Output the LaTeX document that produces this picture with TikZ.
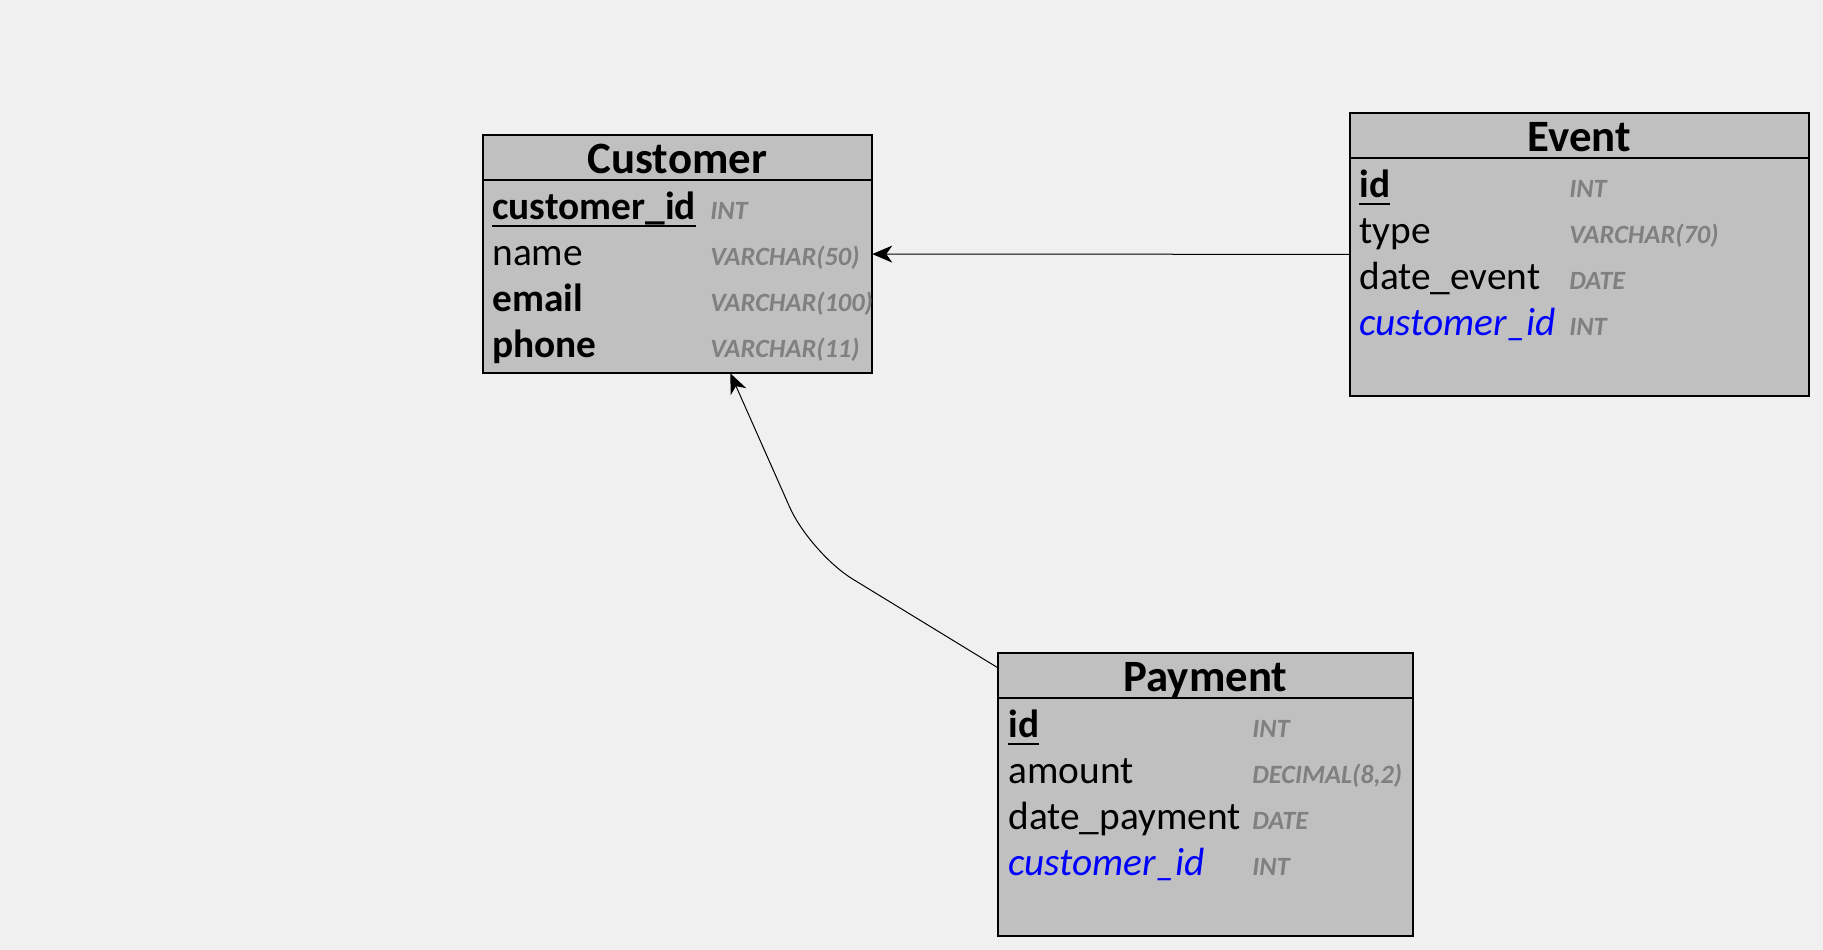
\documentclass[tikz,border=0pt]{standalone}
\usepackage{fontspec}
\setmainfont{Carlito}
\usetikzlibrary{arrows.meta, positioning, fit, calc}

\definecolor{canvas}{HTML}{F0F0F0}
\definecolor{tablefill}{HTML}{C0C0C0}
\definecolor{typegray}{HTML}{808080}
\definecolor{fkblue}{HTML}{0000FF}

% primary key: bold name with a thick underline
\newcommand{\pkname}[1]{\setbox0\hbox{#1}\rlap{\rule[-4.6pt]{\wd0}{1.1pt}}\box0}

\begin{document}
\begin{tikzpicture}[
    x=0.02cm, y=-0.02cm,
    headbox/.style={rectangle,draw,line width=0.04cm,fill=tablefill,anchor=north west,
        inner xsep=0pt,inner ysep=0pt,outer sep=0pt,text height=0.77cm,text depth=0.13cm,
        font=\fontsize{25.5}{28}\selectfont\bfseries},
    bodybox/.style={rectangle,draw,line width=0.04cm,fill=tablefill,anchor=north,
        inner sep=0pt,outer sep=0pt},
    field/.style={anchor=base west,inner sep=0pt,font=\fontsize{22.4}{26}\selectfont},
    boldfield/.style={field,font=\fontsize{22.4}{26}\selectfont\bfseries},
    fkfield/.style={field,text=fkblue,font=\fontsize{22.4}{26}\selectfont\itshape},
    typefield/.style={anchor=base west,inner sep=0pt,text=typegray,
        font=\fontsize{15}{17}\selectfont\bfseries\itshape},
    link/.style={-{Stealth[length=0.4cm,width=0.34cm,inset=0.12cm]},line width=0.02cm}
]
\path[use as bounding box,fill=canvas] (0,0) rectangle (1823,950);

% Customer
\node[headbox, minimum width=7.78cm] (custhd) at (483,135) {Customer};
\node[bodybox, minimum width=7.78cm, minimum height=3.86cm] (custbd) at (custhd.south) {};
\node[fit=(custhd)(custbd), inner sep=0pt] (cust) {};
\node[boldfield] (custid) at (492,219) {\pkname{customer\_id}};
\node[field] (custname) at (492,265) {name};
\node[boldfield] (custmail) at (492,311) {email};
\node[boldfield] (custphone) at (492,357) {phone};
\node[typefield] at (710,219) {INT};
\node[typefield] at (710,265) {VARCHAR(50)};
\node[typefield] at (710,311) {VARCHAR(100)};
\node[typefield] at (710,357) {VARCHAR(11)};

% Event
\node[headbox, minimum width=9.18cm] (evhd) at (1350,113) {Event};
\node[bodybox, minimum width=9.18cm, minimum height=4.76cm] (evbd) at (evhd.south) {};
\node[fit=(evhd)(evbd), inner sep=0pt] (ev) {};
\node[boldfield] (evid) at (1359,197) {\pkname{id}};
\node[field] (evtype) at (1359,243) {type};
\node[field] (evdate) at (1359,289) {date\_event};
\node[fkfield] (evcust) at (1359,335) {customer\_id};
\node[typefield] at (1569,197) {INT};
\node[typefield] at (1569,243) {VARCHAR(70)};
\node[typefield] at (1569,289) {DATE};
\node[typefield] at (1569,335) {INT};

% Payment
\node[headbox, minimum width=8.3cm] (payhd) at (998,653) {Payment};
\node[bodybox, minimum width=8.3cm, minimum height=4.76cm] (paybd) at (payhd.south) {};
\node[fit=(payhd)(paybd), inner sep=0pt] (pay) {};
\node[boldfield] (payid) at (1008,737) {\pkname{id}};
\node[field] (payamount) at (1008,783) {amount};
\node[field] (paydate) at (1008,829) {date\_payment};
\node[fkfield] (paycust) at (1008,875) {customer\_id};
\node[typefield] at (1252,737) {INT};
\node[typefield] at (1252,783) {DECIMAL(8,2)};
\node[typefield] at (1252,829) {DATE};
\node[typefield] at (1252,875) {INT};

\coordinate (bend) at (810,553);
\draw[link] (ev) -- (cust);
\draw[link, rounded corners=1cm] (pay) -- (bend) -- (cust);
\end{tikzpicture}
\end{document}
